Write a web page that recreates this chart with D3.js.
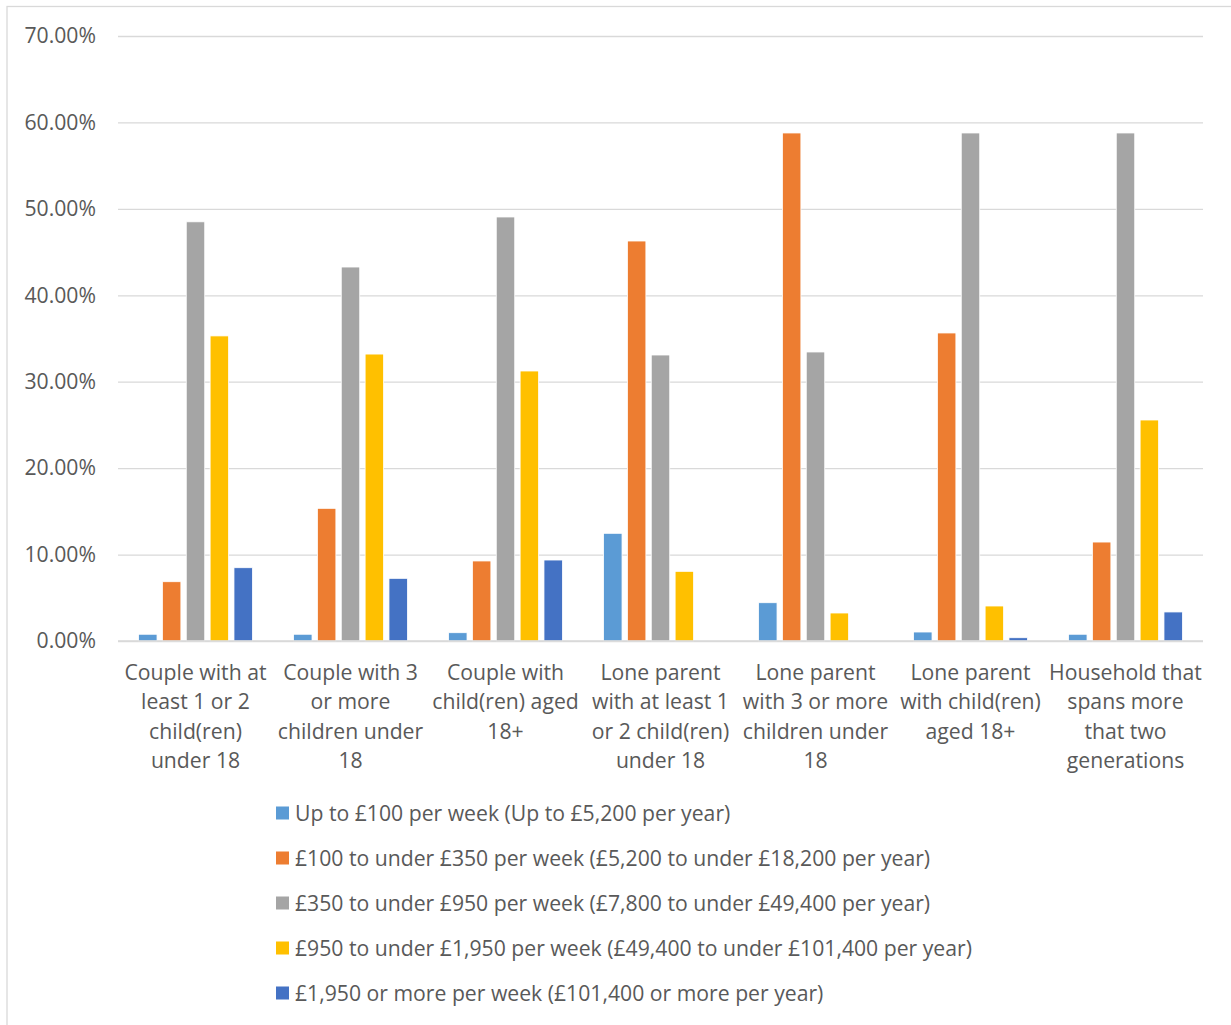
<!DOCTYPE html>
<html>
<head>
<meta charset="utf-8">
<script src="https://cdn.jsdelivr.net/npm/d3@7"></script>
<style>
  body { margin: 0; background: #fff; }
  svg text { font-family: "Open Sans", sans-serif; fill: #595959; }
</style>
</head>
<body>
<script>
"use strict";

// data

const categories = [
    ['Couple with at', 'least 1 or 2', 'child(ren)', 'under 18'],
    ['Couple with 3', 'or more', 'children under', '18'],
    ['Couple with', 'child(ren) aged', '18+'],
    ['Lone parent', 'with at least 1', 'or 2 child(ren)', 'under 18'],
    ['Lone parent', 'with 3 or more', 'children under', '18'],
    ['Lone parent', 'with child(ren)', 'aged 18+'],
    ['Household that', 'spans more', 'that two', 'generations']
];

const seriesNames = [
    'Up to £100 per week (Up to £5,200 per year)',
    '£100 to under £350 per week (£5,200 to under £18,200 per year)',
    '£350 to under £950 per week (£7,800 to under £49,400 per year)',
    '£950 to under £1,950 per week (£49,400 to under £101,400 per year)',
    '£1,950 or more per week (£101,400 or more per year)'
];

const upTo100    = [0.0078, 0.0078, 0.0096, 0.1246, 0.0443, 0.0104, 0.0078];
const from100    = [0.0686, 0.1535, 0.0926, 0.4628, 0.5878, 0.3564, 0.1145];
const from350    = [0.4850, 0.4327, 0.4906, 0.3309, 0.3344, 0.5878, 0.5878];
const from950    = [0.3530, 0.3320, 0.3124, 0.0806, 0.0324, 0.0405, 0.2557];
const from1950   = [0.0848, 0.0725, 0.0937, 0.0000, 0.0000, 0.0038, 0.0336];

const yTicks = [0, 0.1, 0.2, 0.3, 0.4, 0.5, 0.6, 0.7];

const colors = ['#5b9bd5', '#ed7d31', '#a5a5a5', '#ffc000', '#4472c4'];

const series = [upTo100, from100, from350, from950, from1950];

// layout

const W = 1231, H = 1025;
const plot = { left: 118, right: 1203, top: 36, bottom: 641 };
const fontSize = '21.2px';

const svg = d3.select('body')
    .append('svg')
    .attr('width', W)
    .attr('height', H);

// outer chart border (runs off the right and bottom edge)
svg.append('rect')
    .attr('x', 7).attr('y', 6.5)
    .attr('width', W + 10).attr('height', H + 10)
    .attr('fill', 'none')
    .attr('stroke', '#d9d9d9')
    .attr('stroke-width', 1.3);

const catIdx = categories.map((d, i) => i);

const x0 = d3.scaleBand()
    .domain(catIdx)
    .range([plot.left, plot.right])
    .paddingInner(0.265)
    .paddingOuter(0.1325);

const x1 = d3.scaleBand()
    .domain(d3.range(series.length))
    .range([0, x0.bandwidth()])
    .paddingInner(0.225);

const y = d3.scaleLinear()
    .domain([0, 0.7])
    .range([plot.bottom, plot.top]);

// gridlines + y labels
const yAxis = d3.axisLeft(y)
    .tickValues(yTicks)
    .tickFormat(d3.format('.2%'))
    .tickSize(-(plot.right - plot.left))
    .tickPadding(22);

const gy = svg.append('g')
    .attr('transform', 'translate(' + plot.left + ',0)')
    .call(yAxis);
gy.select('.domain').remove();
gy.selectAll('.tick line')
    .attr('stroke', '#d9d9d9')
    .attr('stroke-width', 1.3);
gy.selectAll('.tick text')
    .style('font-size', fontSize)
    .attr('fill', '#595959');

// bars
const groups = svg.append('g')
    .selectAll('g')
    .data(series)
    .enter()
    .append('g')
    .attr('fill', (d, i) => colors[i]);

groups.each(function (vals, si) {
    d3.select(this).selectAll('rect')
        .data(vals)
        .enter()
        .append('rect')
        .attr('x', (d, ci) => x0(ci) + x1(si))
        .attr('y', (d) => y(d))
        .attr('width', x1.bandwidth())
        .attr('height', (d) => plot.bottom - y(d))
        .attr('stroke', (d) => d > 0 ? '#fff' : 'none')
        .attr('stroke-width', 0.8);
});

// baseline
svg.append('line')
    .attr('x1', plot.left).attr('x2', plot.right)
    .attr('y1', y(0)).attr('y2', y(0))
    .attr('stroke', '#d9d9d9')
    .attr('stroke-width', 1.5);

// category labels
const xl = svg.append('g');
categories.forEach((lines, ci) => {
    const t = xl.append('text')
	.attr('text-anchor', 'middle')
	.style('font-size', fontSize);
    lines.forEach((ln, k) => {
	t.append('tspan')
	    .attr('x', x0(ci) + x0.bandwidth() / 2)
	    .attr('y', 680 + k * 29.3)
	    .text(ln);
    });
});

// legend
const leg = svg.append('g');
seriesNames.forEach((name, i) => {
    const cy = 813 + i * 45;
    leg.append('rect')
	.attr('x', 276).attr('y', cy - 6.5)
	.attr('width', 13).attr('height', 13)
	.attr('fill', colors[i]);
    leg.append('text')
	.attr('x', 295).attr('y', cy + 7.5)
	.style('font-size', fontSize)
	.text(name);
});
</script>
</body>
</html>
